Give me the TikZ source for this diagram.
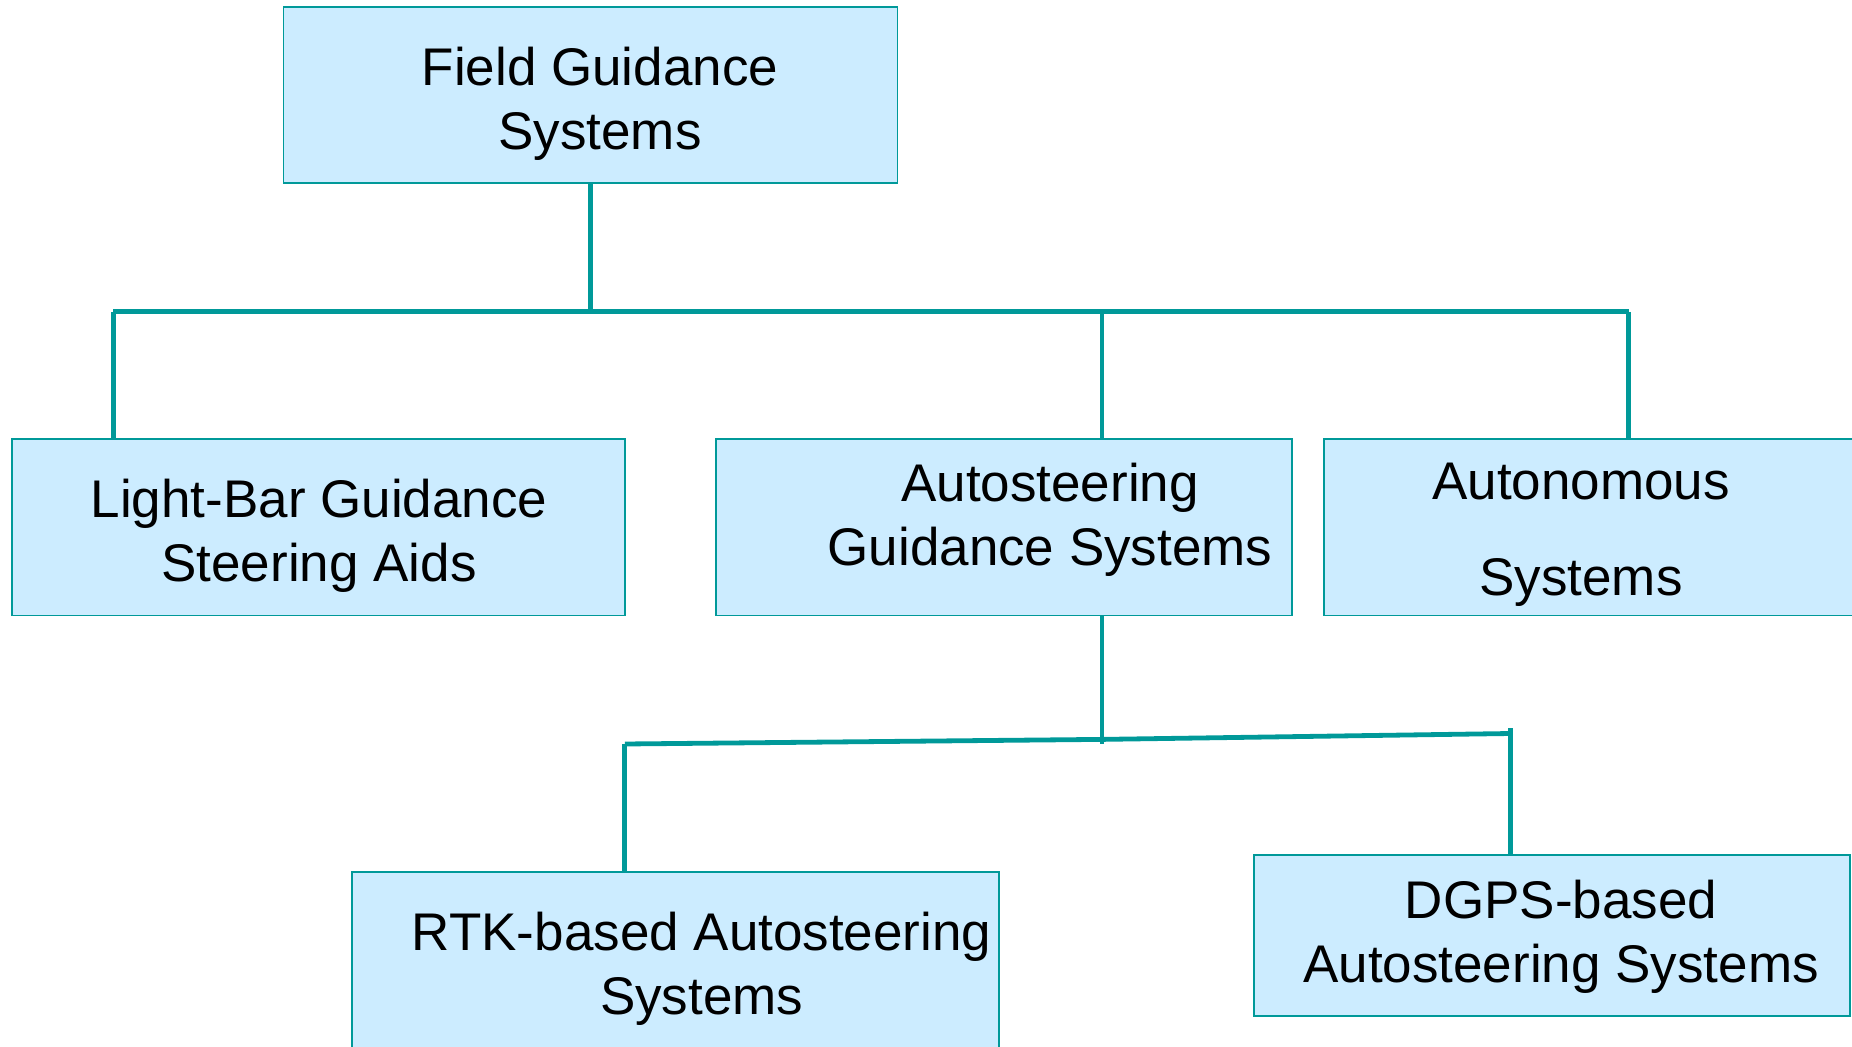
\documentclass[tikz,border=0pt]{standalone}
\usepackage{fontspec}
\setmainfont{Liberation Sans}
\definecolor{boxfill}{RGB}{204,236,255}
\definecolor{teal1}{RGB}{0,153,153}
\begin{document}
\begin{tikzpicture}[x=0.5pt,y=-0.5pt,
  box/.style={draw=teal1,fill=boxfill,line width=0.9pt,inner sep=0pt,outer sep=0pt,anchor=north west},
  lbl/.style={align=center,inner sep=0pt,font=\fontsize{26.5}{32}\selectfont},
  conn/.style={draw=teal1,line width=2.4pt}]
\useasboundingbox (0,0) rectangle (1852,1047);
% boxes
\node[box,minimum width=307pt,minimum height=88pt] (top) at (283.5,7.1) {};
\node[box,minimum width=306.5pt,minimum height=88pt] (lb) at (11.8,439.4) {};
\node[box,minimum width=288.2pt,minimum height=88pt] (as) at (715.7,439.4) {};
\node[box,minimum width=266pt,minimum height=88pt] (an) at (1324,439.4) {};
\node[box,minimum width=323.6pt,minimum height=100pt] (rtk) at (352,871.6) {};
\node[box,minimum width=297.8pt,minimum height=80.4pt] (dg) at (1254,855) {};
% labels
\node[lbl] (ttop) at (600,104) {Field Guidance\\Systems};
\node[lbl] (tlb) at (319,536) {Light-Bar Guidance\\Steering Aids};
\node[lbl] (tas) at (1050,520) {Autosteering\\Guidance Systems};
\node[lbl] (tan) at (1581,535) {Autonomous\\[15.8pt]Systems};
\node[lbl] (trtk) at (701.6,969) {RTK-based Autosteering\\Systems};
\node[lbl] (tdg) at (1561,937) {DGPS-based\\Autosteering Systems};
% junction coordinates
\coordinate (j1) at (590.5,311.8);
\coordinate (cL) at (113.4,311.8);
\coordinate (cM) at (1102,311.8);
\coordinate (cR) at (1628.7,311.8);
\coordinate (j2) at (1102,739.4);
\coordinate (j2b) at (1102,744);
\coordinate (dL) at (624.8,744);
\coordinate (dR) at (1510.6,733.5);
\coordinate (dRt) at (1510.6,728);
% connectors
\draw[conn] (top.south) -- (j1);
\draw[conn] (cL) -- (cR);
\draw[conn] (cL) -- (cL |- lb.north);
\draw[conn] (cM) -- (cM |- as.north);
\draw[conn] (cR) -- (cR |- an.north);
\draw[conn] (j2 |- as.south) -- (j2b);
\draw[conn] (dL) -- (j2) -- (dR);
\draw[conn] (dL) -- (dL |- rtk.north);
\draw[conn] (dRt) -- (dR |- dg.north);
\end{tikzpicture}
\end{document}
